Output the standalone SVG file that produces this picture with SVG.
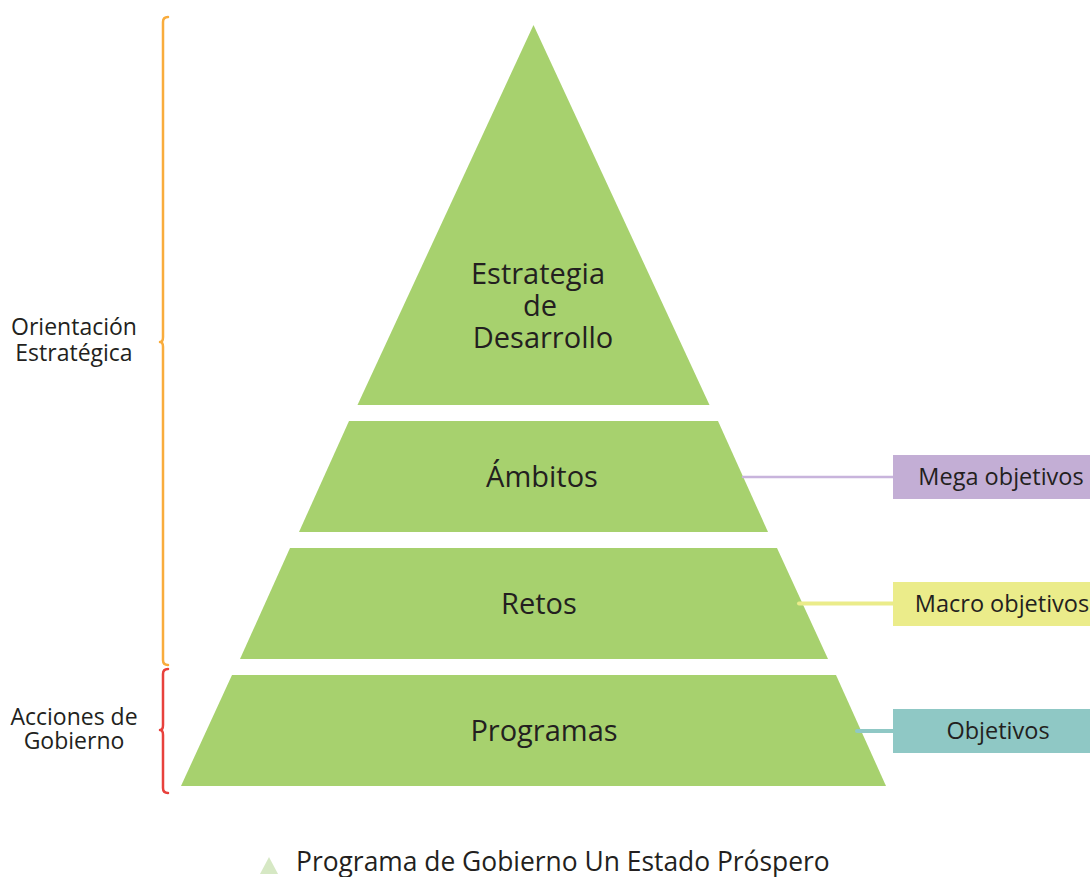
<svg xmlns="http://www.w3.org/2000/svg" width="1090" height="877" viewBox="0 0 1090 877">
<style>
.lvl{fill:#a7d16e}
.t{font-family:"Open Sans","Noto Sans",sans-serif;fill:#231f20}
.big{font-size:29px}
.sm{font-size:23.5px}
.side{font-size:23px}
.brace{fill:none;stroke-width:2.5;stroke-linejoin:round;stroke-linecap:round}
.con{fill:none;stroke-linecap:round}
</style>
<rect width="1090" height="877" fill="#ffffff"/>
<g id="level-estrategia">
<polygon class="lvl" points="533.5,25 709.5,405 357.5,405"/>
<text class="t big" text-anchor="middle" x="538" y="284">Estrategia</text>
<text class="t big" text-anchor="middle" x="540" y="316">de</text>
<text class="t big" text-anchor="middle" x="543" y="348">Desarrollo</text>
</g>
<g id="level-ambitos">
<polygon class="lvl" points="349,421 718,421 768,532 299,532"/>
<text class="t big" text-anchor="middle" x="542" y="487">Ámbitos</text>
</g>
<g id="level-retos">
<polygon class="lvl" points="290,548 777,548 828,659 240,659"/>
<text class="t big" text-anchor="middle" x="539" y="614">Retos</text>
</g>
<g id="level-programas">
<polygon class="lvl" points="232,675 836,675 886,786 181,786"/>
<text class="t big" text-anchor="middle" x="544" y="741">Programas</text>
</g>
<g id="connectors">
<line class="con" x1="743" y1="477" x2="894" y2="477" stroke="#c8b4dc" stroke-width="2.5"/>
<line class="con" x1="799" y1="603.5" x2="894" y2="603.5" stroke="#ebec8a" stroke-width="4"/>
<line class="con" x1="857" y1="731" x2="894" y2="731" stroke="#8fc8c5" stroke-width="4"/>
</g>
<g id="box-mega">
<rect x="893" y="455" width="197" height="44" fill="#c3aed5"/>
<text class="t sm" text-anchor="middle" x="1001" y="485">Mega objetivos</text>
</g>
<g id="box-macro">
<rect x="893" y="582" width="197" height="44" fill="#ebec8a"/>
<text class="t sm" text-anchor="middle" x="1002" y="612">Macro objetivos</text>
</g>
<g id="box-objetivos">
<rect x="893" y="709" width="197" height="44" fill="#8fc8c5"/>
<text class="t sm" text-anchor="middle" x="998" y="739">Objetivos</text>
</g>
<g id="brace-orientacion">
<path class="brace" stroke="#f9ac3c" d="M168,17 Q163,17 163,22 L163,337 Q163,342 160,342 Q163,342 163,347 L163,660 Q163,665 168,665"/>
<text class="t side" text-anchor="middle" x="74" y="335">Orientación</text>
<text class="t side" text-anchor="middle" x="74" y="361">Estratégica</text>
</g>
<g id="brace-acciones">
<path class="brace" stroke="#e8413c" d="M168,669 Q163,669 163,674 L163,725 Q163,730 160,730 Q163,730 163,735 L163,788 Q163,793 168,793"/>
<text class="t side" text-anchor="middle" x="74" y="725">Acciones de</text>
<text class="t side" text-anchor="middle" x="74" y="749">Gobierno</text>
</g>
<g id="legend">
<polygon points="269,857 278,874 260,874" fill="#d6e8c4"/>
<text class="t" font-size="26.4" x="296" y="871">Programa de Gobierno Un Estado Próspero</text>
</g>
</svg>
